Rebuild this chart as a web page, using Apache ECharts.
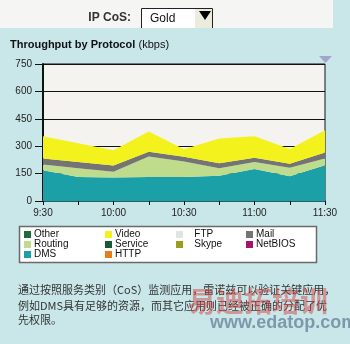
<!DOCTYPE html>
<html><head><meta charset="utf-8">
<script src="https://cdn.jsdelivr.net/npm/echarts@6/dist/echarts.min.js"></script>
<style>html,body{margin:0;padding:0;background:#c9e6e9;}#c{width:350px;height:344px;}</style>
</head><body><div id="c"></div>
<script>
// ---- data ----
const times = ['9:30','9:45','10:00','10:15','10:30','10:45','11:00','11:15','11:30'];
const dms     = [169,132,129,132,132,138,175,136,196];
const routing = [31,47,31,111,84,41,38,46,37];
const mail    = [33,34,34,26,26,27,24,22,32];
const video   = [122,103,84,111,41,136,118,80,123];
const yMin = 0, yMax = 750, yStep = 150;
const legendCols = [['Other','Routing','DMS'],['Video','Service','HTTP'],['FTP','Skype'],['Mail','NetBIOS']];
const stackOrder = ['DMS','Routing','Mail','Video','Other','FTP','Service','Skype','NetBIOS','HTTP'];
const seriesValues = {DMS:dms, Routing:routing, Mail:mail, Video:video};
const titleMain = 'Throughput by Protocol', titleUnit = '(kbps)';
const cosLabel = 'IP CoS:', cosValue = 'Gold';
const noteLines = ['通过按照服务类别（CoS）监测应用，雷诺兹可以验证关键应用，','例如DMS具有足够的资源，而其它应用则已经被正确的分配了优','先权限。'];

// ---- styles ----
const colors = {Other:'#1f6b3c', Video:'#f4f21c', FTP:'#dce6e6', Mail:'#747474', Routing:'#bfdc8c',
  Service:'#1b5834', Skype:'#9c9c1e', NetBIOS:'#a3166c', DMS:'#1aa0a6', HTTP:'#e3801e'};
const FONT = '"Liberation Sans", Arial, sans-serif';

const series = stackOrder.map(name => {
  const d = seriesValues[name];
  return {
    name, type:'line', stack:'total', data: d ? d : [],
    color: colors[name], showSymbol:false, symbol:'none',
    lineStyle:{width:0}, areaStyle: {color: colors[name], opacity:1},
    silent:true
  };
});

const legendX = [24, 105, 176, 246];
const legends = legendCols.map((col,i) => ({
  orient:'vertical', left: legendX[i], top: 229.5, padding:0,
  itemWidth:7, itemHeight:7, itemGap:0, icon:'rect', selectedMode:false,
  data: col, formatter: i===2 ? '   {name}' : '{name}',
  textStyle:{fontSize:10, lineHeight:10, color:'#111', fontFamily:FONT, padding:[0,0,0,-2]}, z:5
}));

const graphics = [
  {type:'rect', z:0, shape:{x:0,y:0,width:333,height:28}, style:{fill:'#f5f5f3'}},
  {type:'text', z:2, x:131, y:18, style:{text:cosLabel, font:'bold 12px '+FONT, fill:'#333', align:'right', verticalAlign:'middle'}},
  {type:'rect', z:1, shape:{x:141,y:8,width:72,height:20}, style:{fill:'#ffffff'}},
  {type:'rect', z:1, shape:{x:195,y:9,width:17,height:19}, style:{fill:'#ecebdc'}},
  {type:'polyline', z:2, shape:{points:[[141.5,28],[141.5,8.5],[212.5,8.5],[212.5,28]]}, style:{stroke:'#222', lineWidth:1, fill:null}},
  {type:'polygon', z:2, shape:{points:[[199,11],[211,11],[205,20]]}, style:{fill:'#000'}},
  {type:'text', z:2, x:150, y:19, style:{text:cosValue, font:'12px '+FONT, fill:'#111', verticalAlign:'middle'}},
  {type:'text', z:2, x:10, y:45, style:{text:'{b|'+titleMain+'} {n|'+titleUnit+'}', verticalAlign:'middle', fill:'#111',
     rich:{b:{font:'bold 11px '+FONT, fill:'#111'}, n:{font:'11px '+FONT, fill:'#111'}}}},
  {type:'polygon', z:2, shape:{points:[[319,56],[332,56],[325.5,63]]}, style:{fill:'#a3a6cc'}},
  {type:'rect', z:1, shape:{x:19.5,y:226.5,width:297,height:36}, style:{fill:'#ffffff', stroke:'#6a6a6a', lineWidth:1.5}},
  ...noteLines.map((t,i) => ({type:'text', z:2, x:18, y:[290,306,320][i], style:{text:t, font:'11px "Noto Sans CJK SC", sans-serif', fill:'#333', verticalAlign:'middle'}})),
  {type:'text', z:6, x:188, y:301, style:{text:'易迪拓培训', font:'bold 28px "Noto Sans CJK SC", sans-serif', fill:'rgba(214,70,70,0.5)', verticalAlign:'middle'}},
  {type:'text', z:6, x:210, y:323, style:{text:'www.edatop.com', font:'bold 18px '+FONT, fill:'rgba(60,90,120,0.55)', verticalAlign:'middle'}}
];

const chart = echarts.init(document.getElementById('c'), null, {renderer:'canvas'});
chart.setOption({
  backgroundColor:'#c9e6e9',
  animation:false,
  textStyle:{fontFamily:FONT},
  grid:{left:43, right:25, top:64, bottom:143, show:true, backgroundColor:'#f4f3ef', borderColor:'#111', borderWidth:1},
  xAxis:{type:'category', data:times, boundaryGap:false,
    axisLine:{show:true, lineStyle:{color:'#2a5c60', width:2}},
    axisTick:{show:true, interval:0, length:4, lineStyle:{color:'#111'}},
    axisLabel:{interval:1, fontSize:10, color:'#222', margin:7, fontFamily:FONT},
    splitLine:{show:false}},
  yAxis:{type:'value', min:yMin, max:yMax, interval:yStep,
    axisLine:{show:true, lineStyle:{color:'#111', width:2}},
    axisTick:{show:true, length:8, lineStyle:{color:'#111'}},
    axisLabel:{fontSize:10, color:'#222', margin:11, fontFamily:FONT},
    splitLine:{show:true, lineStyle:{color:'#111', width:1}}},
  legend: legends,
  series: series,
  graphic: graphics
});
</script></body></html>
